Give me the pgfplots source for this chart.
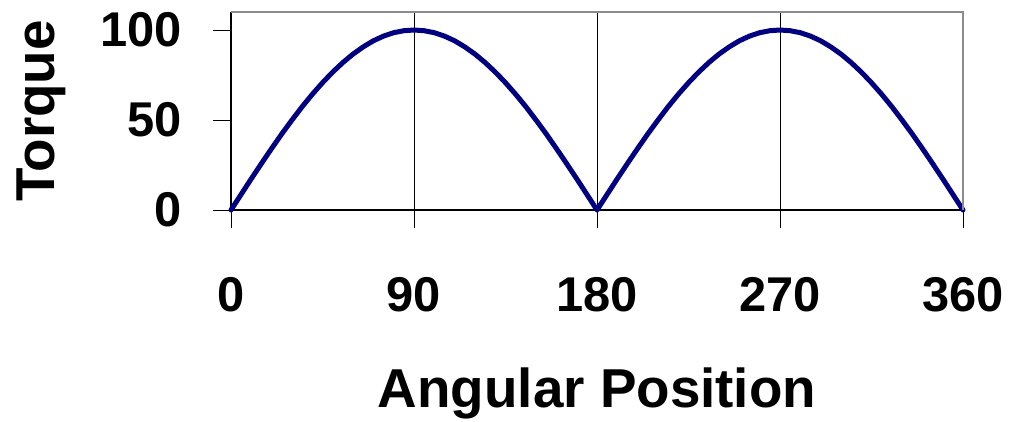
\documentclass[border=0pt]{standalone}
\usepackage{fontspec}
\setmainfont{Liberation Sans}
\usepackage{pgfplots}
\pgfplotsset{compat=1.18}
\definecolor{torqueblue}{RGB}{0,0,128}
\definecolor{framegray}{RGB}{140,140,140}

\begin{document}
\begin{tikzpicture}
\useasboundingbox (-231bp,-212bp) rectangle (782bp,210bp);
\begin{axis}[
  at={(0,0)}, anchor=south west,
  scale only axis,
  width=732bp, height=198bp,
  xmin=0, xmax=360, ymin=0, ymax=110,
  axis x line=bottom, axis y line=left,
  axis line style={-, black, line width=1.2bp},
  xtick={0,90,180,270,360},
  ytick={0,50,100},
  tick align=outside,
  major tick length=18bp,
  tick style={black, line width=0.9bp},
  xmajorgrids,
  major grid style={black, line width=0.9bp},
  /pgf/number format/assume math mode=true,
  tick label style={font=\fontsize{49}{58}\selectfont\bfseries},
  xticklabel style={anchor=north, inner sep=0pt, yshift=-49bp},
  yticklabel style={anchor=east, inner sep=0pt, xshift=-31bp},
  label style={font=\fontsize{55}{66}\selectfont\bfseries},
  xlabel={Angular Position},
  ylabel={Torque},
  xlabel style={at={(axis description cs:0.5,0)}, anchor=base, inner sep=0pt, yshift=-197bp},
  % the label is turned by 90 degrees, so its own y direction points left
  ylabel style={at={(axis description cs:0,0.5)}, anchor=base, inner sep=0pt, yshift=176bp},
  clip=false,
]
\addplot[torqueblue, line width=5bp, line join=round, line cap=round] coordinates {
  (0,0) (5,8.7) (10,17.4) (15,25.9) (20,34.2) (25,42.3) (30,50.0) (35,57.4)
  (40,64.3) (45,70.7) (50,76.6) (55,81.9) (60,86.6) (65,90.6) (70,94.0)
  (75,96.6) (80,98.5) (85,99.6) (90,100) (95,99.6) (100,98.5) (105,96.6)
  (110,94.0) (115,90.6) (120,86.6) (125,81.9) (130,76.6) (135,70.7)
  (140,64.3) (145,57.4) (150,50.0) (155,42.3) (160,34.2) (165,25.9)
  (170,17.4) (175,8.7) (180,0)
  (185,8.7) (190,17.4) (195,25.9) (200,34.2) (205,42.3) (210,50.0) (215,57.4)
  (220,64.3) (225,70.7) (230,76.6) (235,81.9) (240,86.6) (245,90.6) (250,94.0)
  (255,96.6) (260,98.5) (265,99.6) (270,100) (275,99.6) (280,98.5) (285,96.6)
  (290,94.0) (295,90.6) (300,86.6) (305,81.9) (310,76.6) (315,70.7)
  (320,64.3) (325,57.4) (330,50.0) (335,42.3) (340,34.2) (345,25.9)
  (350,17.4) (355,8.7) (360,0)
};
% gray top and right frame edges
\draw[framegray, line width=1.2bp] (rel axis cs:0,1) -- (rel axis cs:1,1) -- (rel axis cs:1,0);
\end{axis}
\end{tikzpicture}
\end{document}
